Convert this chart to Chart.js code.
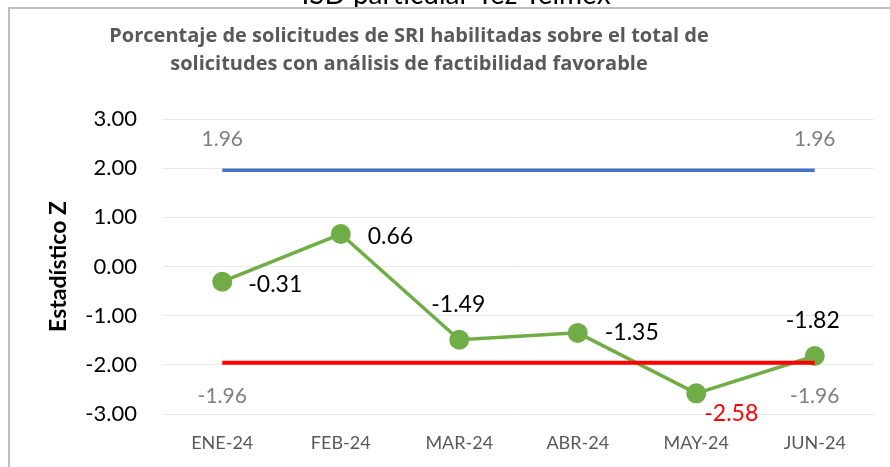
<!DOCTYPE html>
<html>
<head>
<meta charset="utf-8">
<script src="https://cdn.jsdelivr.net/npm/chart.js@4"></script>
<style>
  html, body { margin: 0; padding: 0; background: #fff; }
</style>
</head>
<body>
<canvas id="myChart" width="890" height="467"></canvas>
<script>
// data
const months = ["ENE-24", "FEB-24", "MAR-24", "ABR-24", "MAY-24", "JUN-24"];
const zValues = [-0.31, 0.66, -1.49, -1.35, -2.58, -1.82];
const upperLimit = [1.96, 1.96, 1.96, 1.96, 1.96, 1.96];
const lowerLimit = [-1.96, -1.96, -1.96, -1.96, -1.96, -1.96];
const yTicks = [-3, -2, -1, 0, 1, 2, 3];

const titleLines = [
  "Porcentaje de solicitudes de SRI habilitadas sobre el total de",
  "solicitudes con análisis de factibilidad favorable"
];
const cutHeading = "ISD particular Tez Telmex";

// where each value label sits relative to its point
const labelPlacement = [
  { align: "left", dx: 26, dy: 3 },
  { align: "left", dx: 27, dy: 3 },
  { align: "center", dx: -1, dy: -35 },
  { align: "left", dx: 27, dy: 0 },
  { align: "left", dx: 8, dy: 20 },
  { align: "center", dx: -2, dy: -35 }
];

const frameAndTitle = {
  id: "frameAndTitle",
  beforeDraw(chart) {
    const ctx = chart.ctx;
    ctx.save();
    ctx.fillStyle = "#fff";
    ctx.fillRect(0, 0, chart.width, chart.height);

    // heading of the page above, mostly cut off
    ctx.fillStyle = "#000";
    ctx.font = "28px Lato";
    ctx.textAlign = "center";
    ctx.textBaseline = "alphabetic";
    ctx.fillText(cutHeading, 456, 4);

    // frame
    ctx.fillStyle = "#bfbfbf";
    ctx.fillRect(8, 7, chart.width - 8, 2);
    ctx.fillRect(8, 7, 2, chart.height - 7);

    // title
    ctx.fillStyle = "#595959";
    ctx.font = "bold 20px 'Open Sans'";
    ctx.textBaseline = "middle";
    titleLines.forEach((t, i) => ctx.fillText(t, 409, 36 + i * 28));
    ctx.restore();
  }
};

const valueLabels = {
  id: "valueLabels",
  afterDatasetsDraw(chart) {
    const ctx = chart.ctx;
    ctx.save();
    ctx.textBaseline = "middle";

    ctx.font = "23px Lato";
    chart.getDatasetMeta(0).data.forEach((pt, i) => {
      const p = labelPlacement[i];
      ctx.textAlign = p.align;
      ctx.fillStyle = zValues[i] < lowerLimit[i] ? "#ff0000" : "#000";
      ctx.fillText(zValues[i].toFixed(2), pt.x + p.dx, pt.y + p.dy);
    });

    // limit labels at both ends
    ctx.font = "21px Lato";
    ctx.fillStyle = "#808080";
    ctx.textAlign = "center";
    [1, 2].forEach(di => {
      const meta = chart.getDatasetMeta(di);
      const vals = chart.data.datasets[di].data;
      [0, meta.data.length - 1].forEach(j => {
        const pt = meta.data[j];
        const dy = vals[j] > 0 ? -31 : 33;
        ctx.fillText(vals[j].toFixed(2), pt.x, pt.y + dy);
      });
    });
    ctx.restore();
  }
};

const chart = new Chart(document.getElementById("myChart"), {
  type: "line",
  data: {
    labels: months,
    datasets: [
      {
        label: "Estadístico Z",
        data: zValues,
        borderColor: "#70ad47",
        backgroundColor: "#70ad47",
        borderWidth: 3.5,
        pointRadius: 10,
        pointBorderWidth: 0,
        tension: 0,
        order: 2
      },
      {
        label: "Límite superior",
        data: upperLimit,
        borderColor: "#4472c4",
        borderWidth: 3.5,
        pointRadius: 0,
        order: 1
      },
      {
        label: "Límite inferior",
        data: lowerLimit,
        borderColor: "#ff0000",
        borderWidth: 4,
        pointRadius: 0,
        order: 0
      }
    ]
  },
  options: {
    responsive: false,
    animation: false,
    layout: { padding: { top: 119, right: 16, bottom: 0, left: 0 } },
    plugins: {
      legend: { display: false },
      tooltip: { enabled: false },
      title: { display: false }
    },
    scales: {
      x: {
        offset: true,
        grid: { display: false },
        border: { display: false },
        ticks: {
          color: "#595959",
          font: { family: "Lato", size: 18 },
          padding: 10,
          maxRotation: 0
        },
        afterFit: (scale) => { scale.height = 53; }
      },
      y: {
        min: -3,
        max: 3,
        afterBuildTicks: (scale) => { scale.ticks = yTicks.map(v => ({ value: v })); },
        afterFit: (scale) => { scale.width = 163; },
        grid: { color: "#e8e8e8", lineWidth: 1, drawTicks: false },
        border: { display: false },
        ticks: {
          color: "#000",
          font: { family: "Lato", size: 22 },
          padding: 26,
          callback: (v) => Number(v).toFixed(2)
        },
        title: {
          display: true,
          text: "Estadístico Z",
          color: "#000",
          font: { family: "Lato", size: 23, weight: "bold" },
          padding: { top: 45, bottom: 0 }
        }
      }
    }
  },
  plugins: [frameAndTitle, valueLabels]
});
</script>
</body>
</html>
